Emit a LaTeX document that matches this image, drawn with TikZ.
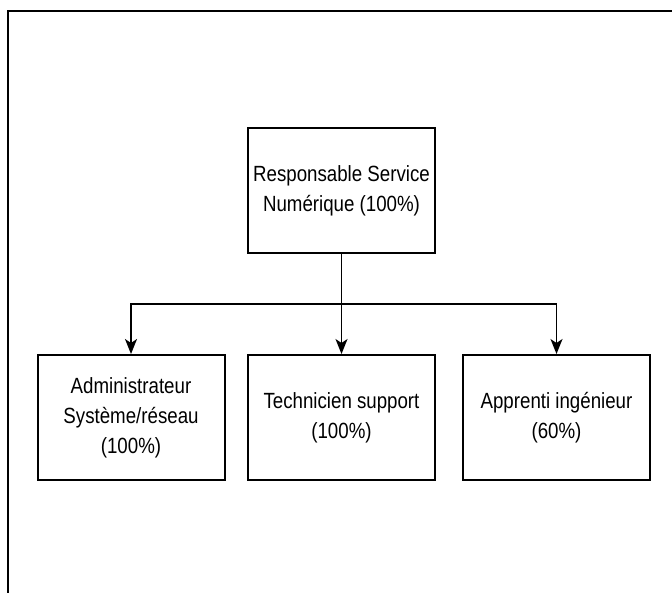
\documentclass[tikz,border=0pt]{standalone}
\usepackage{fontspec}
\setmainfont{Liberation Sans}[FakeStretch=0.85]
\usetikzlibrary{arrows.meta}
\tikzset{%
		poste/.style={draw,line width=2pt,minimum width=187pt,minimum height=125pt,inner sep=0pt,align=center,font=\fontsize{22}{30}\selectfont},
		lien/.style={draw,line width=1.8pt,-{Stealth[length=15pt,width=12pt,inset=4pt]}},
		cadre/.style={draw,line width=2.5pt}
	}

\begin{document}
\begin{tikzpicture}[x=1pt,y=-1pt]
    \useasboundingbox (0,0) rectangle (672,592) ;
    \draw[cadre] (8,600) -- (8,11) -- (680,11) ;
    \node[poste] (resp) at (341.5,190.5) {Responsable Service\\Numérique (100\%)} ;
    \node[poste] (admin) at (131,417.5) {Administrateur\\Système/réseau\\(100\%)} ;
    \node[poste] (tech) at (341.5,417.5) {Technicien support\\(100\%)} ;
    \node[poste] (appr) at (556.5,417.5) {Apprenti ingénieur\\(60\%)} ;
    \coordinate (fourche) at (341.5,304) ;
    \draw[line width=1.8pt] (resp.south) -- (fourche) ;
    \draw[lien] (fourche) -| (admin.north) ;
    \draw[lien] (fourche) -- (tech.north) ;
    \draw[lien] (fourche) -| (appr.north) ;
\end{tikzpicture}
\end{document}
